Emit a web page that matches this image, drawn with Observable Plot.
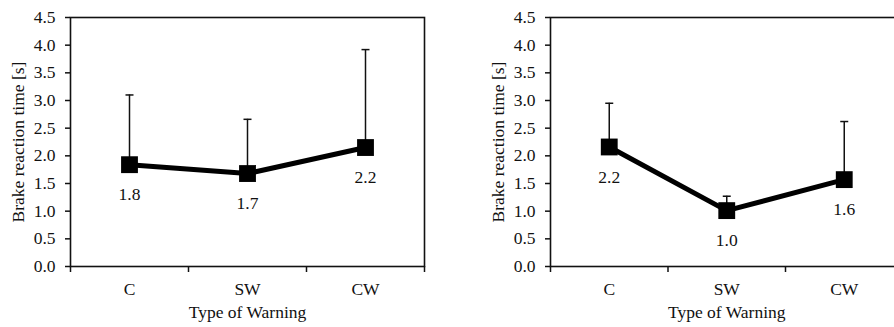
<!DOCTYPE html>
<html>
<head>
<meta charset="utf-8">
<script src="https://cdn.jsdelivr.net/npm/d3@7"></script>
<script src="https://cdn.jsdelivr.net/npm/@observablehq/plot@0.6"></script>
<style>
  html, body { margin: 0; padding: 0; background: #fff; overflow: hidden; }
  #wrap { position: relative; width: 894px; height: 327px; overflow: hidden; background: #fff; }
  #left, #right { position: absolute; top: 0; width: 440px; }
  #left { left: 0; }
  #right { left: 480px; }
  #wrap svg { max-width: none !important; }
</style>
</head>
<body>
<div id="wrap"><div id="left"></div><div id="right"></div></div>
<script>
// ---- data ----
const categories = ["C", "SW", "CW"];
const yTicks = [0, 0.5, 1, 1.5, 2, 2.5, 3, 3.5, 4, 4.5];
const yTitle = "Brake reaction time [s]";
const xTitle = "Type of Warning";

const leftMeans = [1.84, 1.68, 2.15];
const leftUpper = [3.10, 2.66, 3.92];
const leftLabels = ["1.8", "1.7", "2.2"];

const rightMeans = [2.16, 1.01, 1.57];
const rightUpper = [2.95, 1.27, 2.62];
const rightLabels = ["2.2", "1.0", "1.6"];

// cap symbol for error bars: horizontal line
const capSymbol = {
  draw(context, size) {
    const r = Math.sqrt(size / Math.PI);
    context.moveTo(-r, 0);
    context.lineTo(r, 0);
  }
};

function makeTable(means, upper, labels) {
  return categories.map((c, i) => ({cat: c, pos: i + 0.5, mean: means[i], upper: upper[i], label: labels[i]}));
}

function panel(data, width, marginRight) {
  return Plot.plot({
    width, height: 327,
    marginLeft: 70, marginRight, marginTop: 17, marginBottom: 61,
    x: {domain: [0, 3]},
    y: {domain: [0, 4.5]},
    style: {fontFamily: "'Liberation Serif', 'DejaVu Serif', serif", fontSize: "17.5px", color: "#111", background: "#fff", maxWidth: "none"},
    marks: [
      Plot.frame({stroke: "#111", strokeWidth: 1.6}),
      Plot.axisY({ticks: yTicks, tickFormat: d => d.toFixed(1), tickSize: 5, tickPadding: 10, strokeWidth: 1.5,
        label: yTitle, labelAnchor: "center", labelOffset: 59, labelArrow: "none"}),
      Plot.axisX({ticks: [0, 1, 2, 3], tickSize: 6, tickFormat: () => "", strokeWidth: 1.5, label: null}),
      Plot.axisX({ticks: categories.map((c, i) => i + 0.5), tickFormat: v => categories[Math.floor(v)], tickSize: 0, tickPadding: 16,
        label: xTitle, labelAnchor: "center", labelOffset: 51, labelArrow: "none"}),
      Plot.ruleX(data, {x: "pos", y1: "mean", y2: "upper", stroke: "#111", strokeWidth: 1.5}),
      Plot.dot(data, {x: "pos", y: "upper", symbol: capSymbol, r: 4, stroke: "#111", strokeWidth: 1.5}),
      Plot.line(data, {x: "pos", y: "mean", stroke: "#000", strokeWidth: 5}),
      Plot.dot(data, {x: "pos", y: "mean", symbol: "square", r: 9.5, fill: "#000", stroke: "none"}),
      Plot.text(data, {x: "pos", y: "mean", text: "label", dy: 30, fill: "#111"})
    ]
  });
}

document.getElementById("left").append(panel(makeTable(leftMeans, leftUpper, leftLabels), 440, 16));
document.getElementById("right").append(panel(makeTable(rightMeans, rightUpper, rightLabels), 439, 16.5));
</script>
</body>
</html>
